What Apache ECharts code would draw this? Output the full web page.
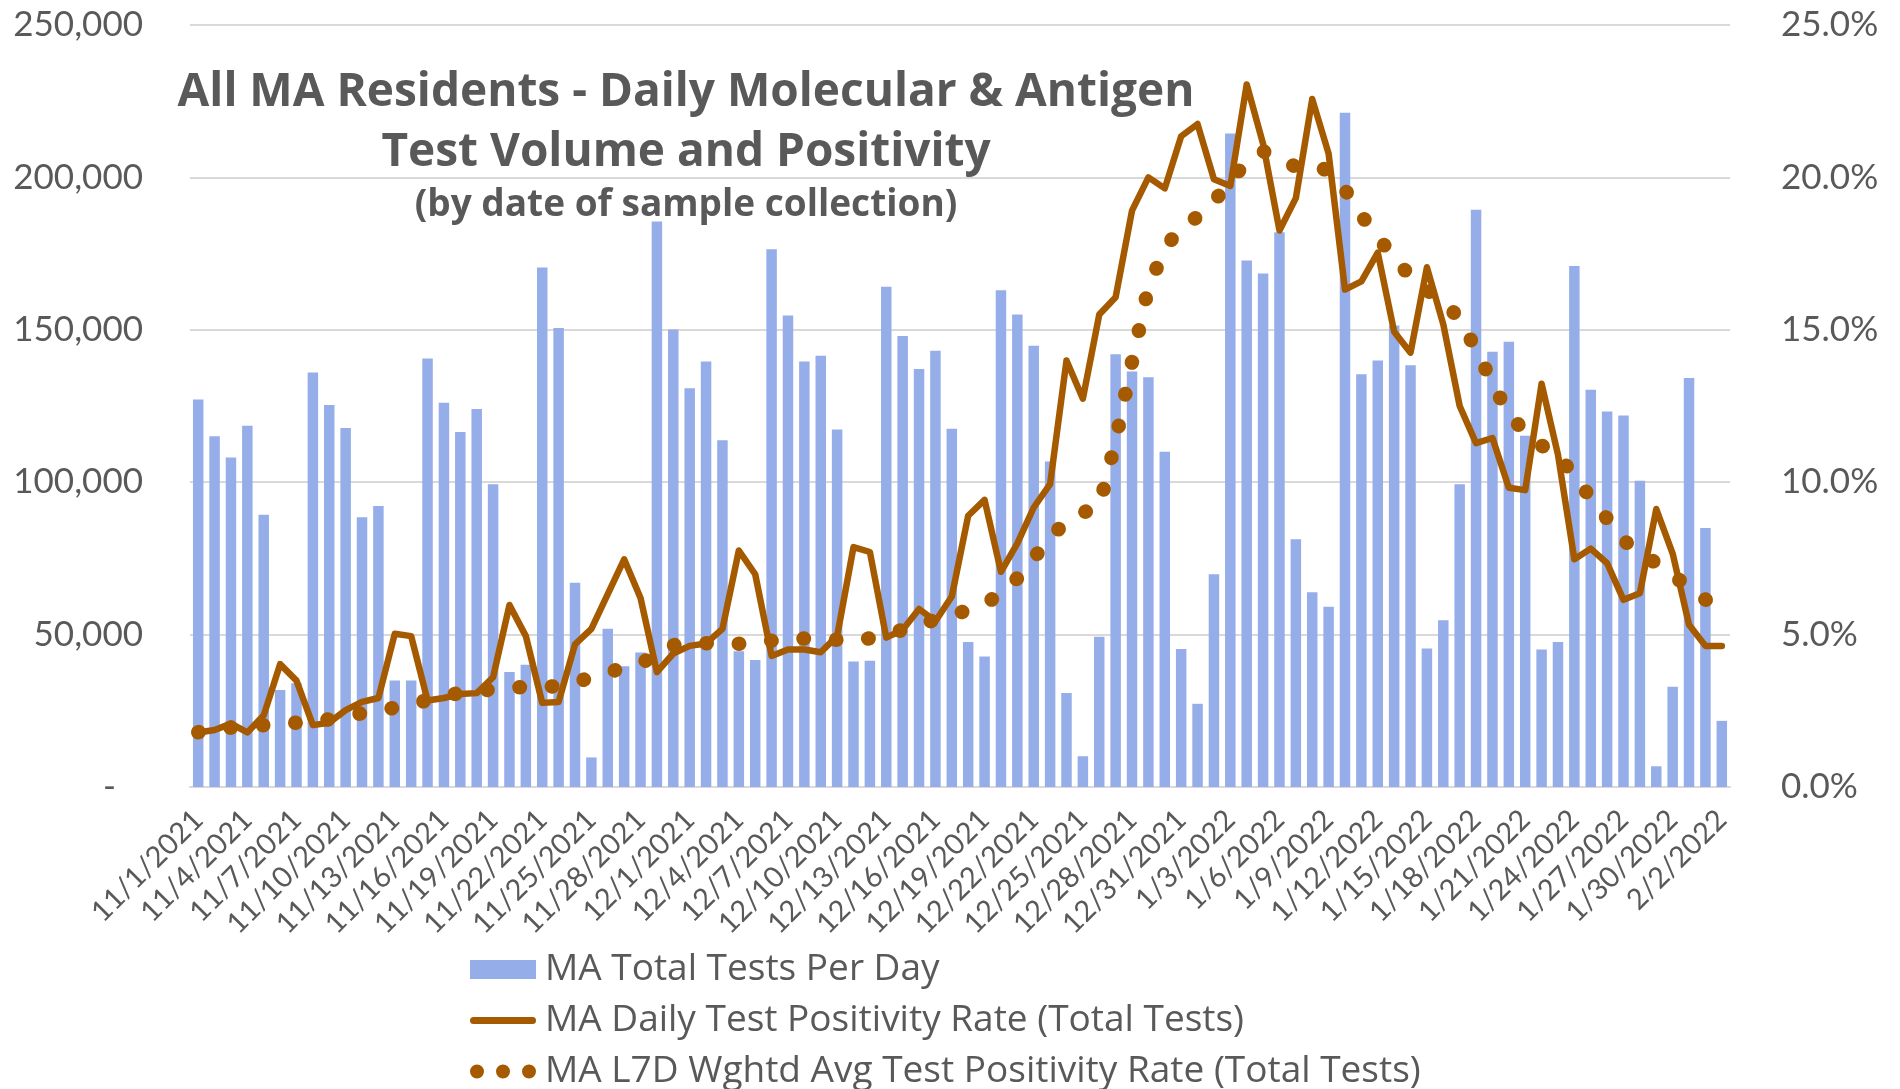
<!DOCTYPE html>
<html>
<head>
<meta charset="utf-8">
<script src="https://cdn.jsdelivr.net/npm/echarts@6/dist/echarts.min.js"></script>
<style>
  html, body { margin: 0; padding: 0; background: #fff; }
  #chart { width: 1900px; height: 1089px; }
</style>
</head>
<body>
<div id="chart"></div>
<script>
// dates, 11/1/2021 .. 2/2/2022
var dates = [
  "11/1/2021", "11/2/2021", "11/3/2021", "11/4/2021", "11/5/2021", "11/6/2021", "11/7/2021", "11/8/2021", "11/9/2021", "11/10/2021",
  "11/11/2021", "11/12/2021", "11/13/2021", "11/14/2021", "11/15/2021", "11/16/2021", "11/17/2021", "11/18/2021", "11/19/2021", "11/20/2021",
  "11/21/2021", "11/22/2021", "11/23/2021", "11/24/2021", "11/25/2021", "11/26/2021", "11/27/2021", "11/28/2021", "11/29/2021", "11/30/2021",
  "12/1/2021", "12/2/2021", "12/3/2021", "12/4/2021", "12/5/2021", "12/6/2021", "12/7/2021", "12/8/2021", "12/9/2021", "12/10/2021",
  "12/11/2021", "12/12/2021", "12/13/2021", "12/14/2021", "12/15/2021", "12/16/2021", "12/17/2021", "12/18/2021", "12/19/2021", "12/20/2021",
  "12/21/2021", "12/22/2021", "12/23/2021", "12/24/2021", "12/25/2021", "12/26/2021", "12/27/2021", "12/28/2021", "12/29/2021", "12/30/2021",
  "12/31/2021", "1/1/2022", "1/2/2022", "1/3/2022", "1/4/2022", "1/5/2022", "1/6/2022", "1/7/2022", "1/8/2022", "1/9/2022",
  "1/10/2022", "1/11/2022", "1/12/2022", "1/13/2022", "1/14/2022", "1/15/2022", "1/16/2022", "1/17/2022", "1/18/2022", "1/19/2022",
  "1/20/2022", "1/21/2022", "1/22/2022", "1/23/2022", "1/24/2022", "1/25/2022", "1/26/2022", "1/27/2022", "1/28/2022", "1/29/2022",
  "1/30/2022", "1/31/2022", "2/1/2022", "2/2/2022"
];

// MA Total Tests Per Day
var totalTests = [
  127100, 115100, 108100, 118500, 89300, 31800, 34000, 136000, 125300, 117800,
  88500, 92200, 34900, 34900, 140600, 126100, 116500, 124000, 99300, 37700,
  40100, 170400, 150600, 67000, 9700, 51900, 39600, 44100, 185500, 150100,
  130800, 139600, 113800, 44500, 41700, 176400, 154700, 139600, 141500, 117300,
  41200, 41400, 164100, 148000, 137100, 143100, 117500, 47600, 42800, 163000,
  155000, 144800, 106800, 30800, 10100, 49300, 142000, 136300, 134400, 110000,
  45300, 27300, 69800, 214400, 172700, 168500, 182000, 81300, 63900, 59100,
  221200, 135400, 139900, 151400, 138400, 45400, 54700, 99300, 189400, 142800,
  146100, 115200, 45100, 47600, 170900, 130300, 123200, 121900, 100500, 6800,
  32900, 134200, 85000, 21700
];

// MA Daily Test Positivity Rate (%)
var dailyRate = [
  1.79, 1.87, 2.08, 1.79, 2.35, 4.03, 3.49, 2.03, 2.11, 2.52,
  2.79, 2.92, 5.03, 4.95, 2.84, 2.92, 3.05, 3.08, 3.60, 5.97,
  4.95, 2.76, 2.79, 4.68, 5.19, 6.33, 7.47, 6.20, 3.77, 4.38,
  4.63, 4.71, 5.19, 7.76, 6.98, 4.30, 4.51, 4.51, 4.42, 4.95,
  7.87, 7.71, 4.90, 5.16, 5.84, 5.44, 6.25, 8.90, 9.42, 7.06,
  7.99, 9.17, 9.94, 13.99, 12.74, 15.50, 16.07, 18.91, 20.00, 19.64,
  21.35, 21.75, 19.94, 19.72, 23.05, 21.10, 18.26, 19.32, 22.57, 20.78,
  16.32, 16.59, 17.53, 14.94, 14.25, 17.05, 15.18, 12.50, 11.28, 11.45,
  9.82, 9.74, 13.23, 10.90, 7.47, 7.82, 7.34, 6.14, 6.36, 9.12,
  7.66, 5.32, 4.63, 4.63
];

// MA L7D Wghtd Avg Test Positivity Rate (%)
var avgRate = [
  1.80, 1.87, 1.95, 2.00, 2.03, 2.07, 2.11, 2.16, 2.22, 2.32,
  2.42, 2.50, 2.60, 2.70, 2.85, 3.00, 3.08, 3.15, 3.20, 3.27,
  3.27, 3.25, 3.33, 3.43, 3.60, 3.77, 3.90, 4.05, 4.35, 4.65,
  4.73, 4.72, 4.68, 4.70, 4.74, 4.80, 4.87, 4.87, 4.87, 4.83,
  4.79, 4.88, 5.03, 5.15, 5.30, 5.50, 5.68, 5.78, 6.00, 6.35,
  6.85, 7.50, 8.20, 8.70, 9.00, 9.20, 11.35, 13.95, 16.40, 17.65,
  18.40, 18.70, 19.20, 19.90, 20.50, 20.86, 20.60, 20.35, 20.45, 20.20,
  19.60, 18.75, 18.05, 17.35, 16.75, 16.30, 15.95, 15.35, 14.35, 13.25,
  12.22, 11.65, 11.20, 10.95, 10.15, 9.50, 8.80, 8.10, 7.65, 7.35,
  6.95, 6.55, 6.15, 5.75
];

var seriesNames = [
  "MA Total Tests Per Day",
  "MA Daily Test Positivity Rate (Total Tests)",
  "MA L7D Wghtd Avg Test Positivity Rate (Total Tests)"
];

var textColor = '#595959';
var barColor = '#95ADE8';
var lineColor = '#A65A00';
var gridColor = '#D9D9D9';

var chart = echarts.init(document.getElementById('chart'), null, { renderer: 'canvas' });

var option = {
  animation: false,
  backgroundColor: '#fff',
  title: {
    text: 'All MA Residents - Daily Molecular & Antigen\nTest Volume and Positivity',
    subtext: '(by date of sample collection)',
    left: 681,
    top: 58,
    textAlign: 'center',
    itemGap: 2,
    textStyle: {
      fontFamily: 'Open Sans',
      fontWeight: 'bold',
      fontSize: 46,
      lineHeight: 60,
      color: textColor
    },
    subtextStyle: {
      fontFamily: 'Open Sans',
      fontWeight: 'bold',
      fontSize: 37,
      lineHeight: 40,
      color: textColor
    }
  },
  legend: {
    orient: 'vertical',
    left: 470,
    top: 951,
    height: 200,
    padding: 0,
    itemWidth: 66,
    itemHeight: 19,
    itemGap: 14,
    textStyle: {
      fontFamily: 'Open Sans',
      fontSize: 37,
      lineHeight: 30,
      color: textColor,
      padding: [0, 0, 0, 4]
    },
    data: [
      { name: seriesNames[0], icon: 'rect' },
      { name: seriesNames[1], icon: 'path://M3.5,0H62.5A3.5,3.5 0 0 1 62.5,7H3.5A3.5,3.5 0 0 1 3.5,0Z' },
      { name: seriesNames[2], icon: 'path://M0,7A7,7 0 1 0 14,7A7,7 0 1 0 0,7ZM26,7A7,7 0 1 0 40,7A7,7 0 1 0 26,7ZM52,7A7,7 0 1 0 66,7A7,7 0 1 0 52,7Z' }
    ]
  },
  grid: {
    left: 190,
    right: 170,
    top: 25,
    bottom: 302,
    containLabel: false
  },
  xAxis: {
    type: 'category',
    data: dates,
    axisLine: { show: true, lineStyle: { color: gridColor, width: 2 } },
    axisTick: { show: false },
    axisLabel: {
      interval: 2,
      rotate: 45,
      margin: 28,
      fontFamily: 'Lato',
      fontSize: 29,
      color: textColor
    }
  },
  yAxis: [
    {
      type: 'value',
      min: 0,
      max: 250000,
      interval: 50000,
      axisLine: { show: false },
      axisTick: { show: false },
      splitLine: { lineStyle: { color: gridColor, width: 2 } },
      axisLabel: {
        margin: 47,
        fontFamily: 'Lato',
        fontSize: 35,
        color: textColor,
        formatter: function (v) {
          if (v === 0) return '-   ';
          return v.toLocaleString('en-US');
        }
      }
    },
    {
      type: 'value',
      min: 0,
      max: 25,
      interval: 5,
      axisLine: { show: false },
      axisTick: { show: false },
      splitLine: { show: false },
      axisLabel: {
        margin: 51,
        fontFamily: 'Lato',
        fontSize: 35,
        color: textColor,
        formatter: function (v) {
          return v.toFixed(1) + '%';
        }
      }
    }
  ],
  series: [
    {
      name: seriesNames[0],
      type: 'bar',
      data: totalTests,
      barCategoryGap: '36%',
      itemStyle: { color: barColor }
    },
    {
      name: seriesNames[1],
      type: 'line',
      yAxisIndex: 1,
      data: dailyRate,
      symbol: 'none',
      itemStyle: { color: lineColor },
      lineStyle: { color: lineColor, width: 6.5, cap: 'round', join: 'round' }
    },
    {
      name: seriesNames[2],
      type: 'line',
      yAxisIndex: 1,
      data: avgRate,
      symbol: 'none',
      itemStyle: { color: lineColor },
      lineStyle: { color: lineColor, width: 14.5, type: [0.5, 32], cap: 'round', join: 'round' }
    }
  ]
};

chart.setOption(option);
</script>
</body>
</html>
